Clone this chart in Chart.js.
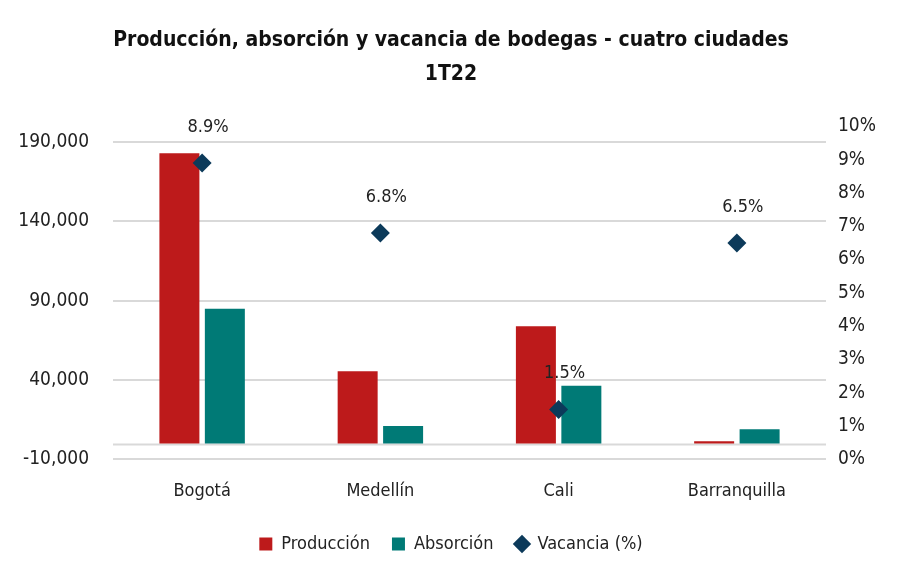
<!DOCTYPE html>
<html>
<head>
<meta charset="utf-8">
<script src="https://cdn.jsdelivr.net/npm/chart.js@4.4.1/dist/chart.umd.min.js"></script>
<style>
  html, body { margin: 0; padding: 0; background: #fff; }
  #wrap { width: 902px; height: 580px; }
</style>
</head>
<body>
<div id="wrap"><canvas id="mainChart" width="902" height="580"></canvas></div>
<script>
// datos del gráfico
const ciudades = ['Bogotá', 'Medellín', 'Cali', 'Barranquilla'];
const produccion = [183000, 45500, 74000, 1500];
const absorcion = [85000, 11000, 36500, 9000];
const vacancia = [8.9, 6.8, 1.5, 6.5];
const ticksIzq = [-10000, 40000, 90000, 140000, 190000];

const FUENTE = '"DejaVu Sans Condensed", sans-serif';
const ROJO = '#bd1a1b';
const VERDE = '#007a76';
const AZUL = '#0c3a5a';

// etiquetas de vacancia y linea del cero
const extras = {
  id: 'extras',
  beforeDatasetsDraw(chart) {
    const { ctx, chartArea, scales } = chart;
    const y0 = Math.round(scales.y.getPixelForValue(0)) + 0.5;
    ctx.save();
    ctx.strokeStyle = '#d9d9d9';
    ctx.lineWidth = 2;
    ctx.beginPath();
    ctx.moveTo(chartArea.left, y0);
    ctx.lineTo(chartArea.right, y0);
    ctx.stroke();
    ctx.restore();
  },
  afterDatasetsDraw(chart) {
    const { ctx } = chart;
    const idx = chart.data.datasets.findIndex(d => d.type === 'line');
    const meta = chart.getDatasetMeta(idx);
    ctx.save();
    ctx.font = '18px ' + FUENTE;
    ctx.fillStyle = '#222';
    ctx.textAlign = 'center';
    ctx.textBaseline = 'middle';
    meta.data.forEach((pt, i) => {
      ctx.fillText(vacancia[i].toFixed(1) + '%', pt.x + 6, pt.y - 36);
    });
    ctx.restore();
  }
};

new Chart(document.getElementById('mainChart'), {
  data: {
    labels: ciudades,
    datasets: [
      { type: 'bar', label: 'Producción', data: produccion, backgroundColor: ROJO,
        yAxisID: 'y', order: 1, pointStyle: 'rect',
        categoryPercentage: 0.51, barPercentage: 0.88 },
      { type: 'bar', label: 'Absorción', data: absorcion, backgroundColor: VERDE,
        yAxisID: 'y', order: 1, pointStyle: 'rect',
        categoryPercentage: 0.51, barPercentage: 0.88 },
      { type: 'line', label: 'Vacancia (%)', data: vacancia, yAxisID: 'y1', order: 0,
        showLine: false, pointStyle: 'rectRot', pointRadius: 9.5, pointHoverRadius: 9.5,
        backgroundColor: AZUL, borderColor: AZUL, borderWidth: 0 }
    ]
  },
  options: {
    responsive: false,
    animation: false,
    layout: { padding: { left: 0, right: 0, top: 0, bottom: 17 } },
    plugins: {
      title: {
        display: true,
        text: ['Producción, absorción y vacancia de bodegas - cuatro ciudades', '1T22'],
        color: '#111',
        font: { family: FUENTE, size: 21, weight: 'bold', lineHeight: 1.65 },
        padding: { top: 23, bottom: 34 }
      },
      legend: {
        position: 'bottom',
        labels: {
          usePointStyle: true,
          boxWidth: 13,
          boxHeight: 13,
          padding: 22,
          color: '#222',
          font: { family: FUENTE, size: 18 },
          sort: (a, b) => a.datasetIndex - b.datasetIndex
        }
      },
      tooltip: { enabled: false }
    },
    scales: {
      x: {
        grid: { display: false, drawTicks: false },
        border: { display: false },
        afterFit: (axis) => { axis.height = axis.height - 10; },
        ticks: { color: '#222', font: { family: FUENTE, size: 18 }, padding: 21 }
      },
      y: {
        position: 'left',
        min: -10000,
        max: 200000,
        afterBuildTicks: (axis) => { axis.ticks = ticksIzq.map(v => ({ value: v })); },
        afterFit: (axis) => { axis.width = 113; },
        grid: { color: '#d9d9d9', lineWidth: 2, drawTicks: false },
        border: { display: false },
        ticks: {
          color: '#222', padding: 24,
          font: { family: FUENTE, size: 19 },
          callback: (v) => v.toLocaleString('en-US')
        }
      },
      y1: {
        position: 'right',
        min: 0,
        max: 10,
        afterFit: (axis) => { axis.width = 76; },
        grid: { display: false, drawTicks: false },
        border: { display: false },
        ticks: {
          stepSize: 1, color: '#222', padding: 12,
          font: { family: FUENTE, size: 19 },
          callback: (v) => v + '%'
        }
      }
    }
  },
  plugins: [extras]
});
</script>
</body>
</html>
